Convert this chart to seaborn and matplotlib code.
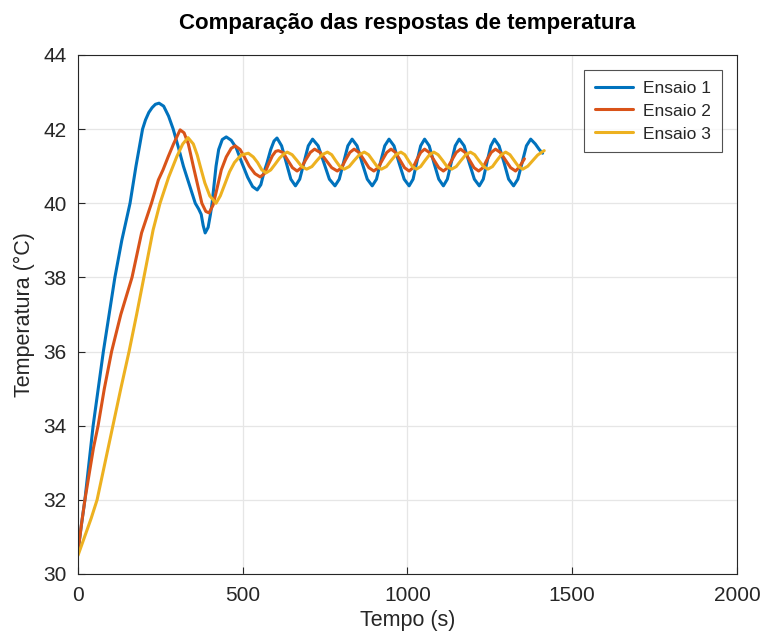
import numpy as np
import pandas as pd
import matplotlib
matplotlib.use("Agg")
import matplotlib.pyplot as plt
import seaborn as sns

# valores (tempo em s, temperatura em C)
t1 = [0, 10, 21, 46, 77, 112, 133, 158, 176, 196, 205, 215, 225, 235, 246, 260, 275, 289, 305, 320, 338, 356,
      366, 374, 380, 386, 395, 402, 407, 413, 419, 427, 438, 450, 465, 480, 497, 515, 530, 544, 555,
      565, 574, 585, 595, 604,
      618, 632, 646, 660, 673, 686, 699, 712, 729, 746, 763, 780, 793, 806, 819, 832,
      847, 862, 878, 893, 906, 918, 931, 944, 959, 974, 990, 1005, 1017, 1028, 1040, 1052,
      1066, 1080, 1095, 1109, 1121, 1133, 1145, 1157, 1172, 1187, 1203, 1218, 1230, 1241, 1253, 1264,
      1278, 1293, 1307, 1322, 1335, 1348, 1361, 1374, 1388, 1400, 1410]
T1 = [30.6, 31.3, 32.0, 34.0, 36.0, 38.0, 39.0, 40.0, 41.0, 42.0, 42.25, 42.45, 42.58, 42.67, 42.7, 42.62,
      42.35, 42.0, 41.5, 41.0, 40.5, 40.0, 39.85, 39.7, 39.4, 39.2, 39.35, 39.7, 40.0, 40.5, 41.0, 41.45,
      41.72, 41.79, 41.7, 41.5, 41.1, 40.7, 40.45, 40.36, 40.5, 40.85, 41.1, 41.45, 41.68, 41.76,
      41.55, 41.1, 40.65, 40.47, 40.65, 41.1, 41.55, 41.73, 41.55, 41.1, 40.65, 40.47, 40.65, 41.1, 41.55, 41.73,
      41.55, 41.1, 40.65, 40.47, 40.65, 41.1, 41.55, 41.73, 41.55, 41.1, 40.65, 40.47, 40.65, 41.1, 41.55, 41.73,
      41.55, 41.1, 40.65, 40.47, 40.65, 41.1, 41.55, 41.73, 41.55, 41.1, 40.65, 40.47, 40.65, 41.1, 41.55, 41.73,
      41.55, 41.1, 40.65, 40.47, 40.65, 41.1, 41.55, 41.73, 41.6, 41.45, 41.35]

t2 = [0, 10, 21, 47, 61, 80, 102, 130, 164, 193, 223, 244, 258, 274, 290, 310, 322, 335, 350, 363,
      376, 388, 398, 410, 422, 435, 450, 465, 477, 492, 505, 520, 537, 553, 566, 578, 590, 600, 608,
      622, 636, 651, 665, 678, 691, 705, 718, 735, 752, 770, 787, 800, 812, 825, 838,
      853, 868, 883, 898, 911, 924, 937, 950, 964, 977, 991, 1005, 1017, 1028, 1040, 1052,
      1066, 1080, 1095, 1109, 1122, 1135, 1148, 1161, 1175, 1188, 1202, 1216, 1229, 1241, 1254, 1267,
      1282, 1297, 1313, 1328, 1340, 1348, 1355]
T2 = [30.6, 31.3, 32.0, 33.4, 34.0, 35.0, 36.0, 37.0, 38.0, 39.2, 40.0, 40.63, 40.9, 41.26, 41.6, 41.98,
      41.9, 41.6, 41.0, 40.5, 40.0, 39.78, 39.74, 39.95, 40.4, 40.9, 41.25, 41.48, 41.55, 41.45, 41.25,
      41.0, 40.8, 40.71, 40.8, 41.05, 41.28, 41.4, 41.42,
      41.37, 41.17, 40.96, 40.87, 40.96, 41.17, 41.37, 41.46, 41.37, 41.17, 40.96, 40.87, 40.96, 41.17, 41.37, 41.46,
      41.37, 41.17, 40.96, 40.87, 40.96, 41.17, 41.37, 41.46, 41.37, 41.17, 40.96, 40.87, 40.96, 41.17, 41.37, 41.46,
      41.37, 41.17, 40.96, 40.87, 40.96, 41.17, 41.37, 41.46, 41.37, 41.17, 40.96, 40.87, 40.96, 41.17, 41.37, 41.46,
      41.37, 41.17, 40.96, 40.87, 40.98, 41.1, 41.2]

t3 = [0, 20, 40, 58, 82, 106, 130, 155, 178, 200, 228, 249, 275, 300, 318, 334, 350, 362, 371, 385,
      400, 419, 432, 445, 460, 475, 495, 517, 532, 545, 558, 571, 585, 598, 612, 625, 635,
      650, 665, 679, 694, 710, 725, 741, 757, 770, 782, 795, 808, 823, 838, 854, 869,
      882, 895, 908, 921, 936, 950, 965, 980, 992, 1003, 1015, 1027, 1040, 1053, 1067, 1080,
      1093, 1107, 1120, 1134, 1148, 1162, 1177, 1191, 1204, 1217, 1231, 1244, 1258, 1271, 1285, 1298,
      1311, 1324, 1337, 1350, 1365, 1380, 1395, 1408, 1415]
T3 = [30.5, 31.0, 31.5, 32.0, 33.0, 34.0, 35.0, 36.0, 37.0, 38.0, 39.28, 40.0, 40.7, 41.26, 41.6, 41.77,
      41.6, 41.3, 41.0, 40.55, 40.2, 40.0, 40.2, 40.5, 40.85, 41.1, 41.3, 41.35, 41.25, 41.1, 40.9, 40.82,
      40.9, 41.05, 41.22, 41.33, 41.38,
      41.31, 41.15, 40.99, 40.92, 40.99, 41.15, 41.31, 41.38, 41.31, 41.15, 40.99, 40.92, 40.99, 41.15, 41.31, 41.38,
      41.31, 41.15, 40.99, 40.92, 40.99, 41.15, 41.31, 41.38, 41.31, 41.15, 40.99, 40.92, 40.99, 41.15, 41.31, 41.38,
      41.31, 41.15, 40.99, 40.92, 40.99, 41.15, 41.31, 41.38, 41.31, 41.15, 40.99, 40.92, 40.99, 41.15, 41.31, 41.38,
      41.31, 41.15, 40.99, 40.92, 41.0, 41.15, 41.3, 41.38, 41.42]

ensaios = ["Ensaio 1", "Ensaio 2", "Ensaio 3"]
cores = ["#0072BD", "#D95319", "#EDB120"]

df = pd.concat([
    pd.DataFrame({"Tempo": t, "Temperatura": T, "Ensaio": nome})
    for t, T, nome in zip([t1, t2, t3], [T1, T2, T3], ensaios)
])

sns.set_theme(style="whitegrid")
plt.rcParams['font.family'] = ['Liberation Sans', 'DejaVu Sans']

fig = plt.figure(figsize=(7.6, 6.35), dpi=100)
ax = fig.add_axes([0.1026, 0.0961, 0.8671, 0.8173])

sns.lineplot(data=df, x="Tempo", y="Temperatura", hue="Ensaio", palette=cores,
             estimator=None, sort=False, linewidth=2.2, ax=ax)

ax.set_xlim(0, 2000)
ax.set_ylim(30, 44)
ax.set_xticks([0, 500, 1000, 1500, 2000])
ax.set_yticks(np.arange(30, 45, 2))
ax.grid(True, color="#e6e6e6", linewidth=0.9)
for s in ax.spines.values():
    s.set_color("#262626")
    s.set_linewidth(0.8)
ax.tick_params(direction="in", length=5, width=0.8, color="#262626",
               labelsize=15, labelcolor="#262626", left=True, bottom=True)
ax.tick_params(axis="x", pad=9)
ax.tick_params(axis="y", pad=8)

ax.set_xlabel("Tempo (s)", fontsize=15.5, color="#262626", labelpad=3)
ax.set_ylabel("Temperatura (°C)", fontsize=15.5, color="#262626", labelpad=6)
ax.set_title("Comparação das respostas de temperatura", fontsize=16, fontweight="bold",
             color="black", pad=19)

leg = ax.legend(loc="upper right", bbox_to_anchor=(0.977, 0.971), borderaxespad=0,
                fontsize=12.5, frameon=True, fancybox=False, handlelength=2.2,
                labelspacing=0.45, borderpad=0.6, handletextpad=0.6)
leg.get_frame().set_edgecolor("#262626")
leg.get_frame().set_linewidth(0.8)
for line in leg.get_lines():
    line.set_linewidth(2.2)

plt.savefig("out.png", dpi=100)
